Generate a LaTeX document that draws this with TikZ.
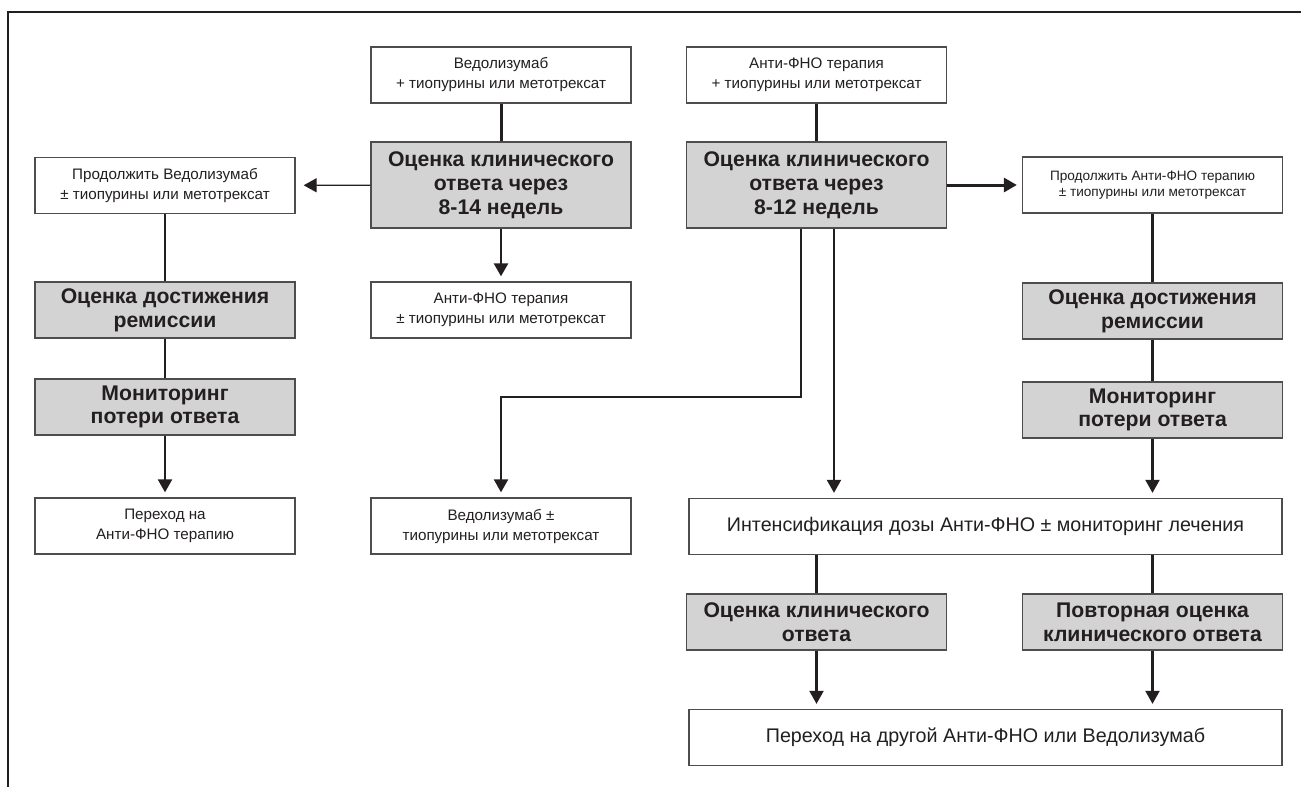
\documentclass[tikz,border=0pt]{standalone}
\usepackage{fontspec}
\setmainfont{Liberation Sans}
\usetikzlibrary{positioning,arrows.meta}
\definecolor{boxgrey}{RGB}{211,211,212}
\definecolor{ink}{RGB}{35,31,32}
\tikzset{
whitebox/.style={draw=ink!80, line width=1.3pt, fill=white, text=ink, minimum width=260pt, minimum height=56pt, align=center, inner sep=0pt, font=\fontsize{15.2}{20}\selectfont},
greybox/.style={whitebox, fill=boxgrey, font=\bfseries\fontsize{21.2}{23.8}\selectfont},
widebox/.style={whitebox, minimum width=593pt, font=\fontsize{19.7}{22}\selectfont},
link/.style={draw=ink, line width=2.2pt},
arr/.style={link, -{Triangle[length=13pt,width=14pt]}, shorten >=5pt}
}

\begin{document}
\begin{tikzpicture}[x=1pt,y=-1pt]
\useasboundingbox (0,0) rectangle (1301,787);
\draw[ink, line width=1.3pt] (8,787) -- (8,12) -- (1301,12);

% left half
\node[whitebox] (vedo) at (501,75) {Ведолизумаб\\+ тиопурины или метотрексат};
\node[greybox, minimum height=86pt] (evalV) at (501,185) {Оценка клинического\\ответа через\\8-14 недель};
\node[whitebox] (contV) at (165,185.5) {Продолжить Ведолизумаб\\± тиопурины или метотрексат};
\node[whitebox] (tnfV) at (501,310) {Анти-ФНО терапия\\± тиопурины или метотрексат};
\node[greybox] (remV) at (165,310) {Оценка достижения\\ремиссии};
\node[greybox] (monV) at (165,407) {Мониторинг\\потери ответа};
\node[whitebox] (swV) at (165,526) {Переход на\\Анти-ФНО терапию};
\node[whitebox] (vedoT) at (501,526) {Ведолизумаб ±\\тиопурины или метотрексат};

% right half
\node[whitebox] (tnf) at (816.5,75) {Анти-ФНО терапия\\+ тиопурины или метотрексат};
\node[greybox, minimum height=86pt] (evalT) at (816.5,185) {Оценка клинического\\ответа через\\8-12 недель};
\node[whitebox, font=\fontsize{13.6}{15.5}\selectfont] (contT) at (1152.5,185) {Продолжить Анти-ФНО терапию\\± тиопурины или метотрексат};
\node[greybox] (remT) at (1152.5,311) {Оценка достижения\\ремиссии};
\node[greybox] (monT) at (1152.5,410) {Мониторинг\\потери ответа};
\node[widebox] (dose) at (985.5,526.5) {Интенсификация дозы Анти-ФНО ± мониторинг лечения};
\node[greybox] (evalD) at (816.5,622) {Оценка клинического\\ответа};
\node[greybox] (reevalD) at (1152.5,622) {Повторная оценка\\клинического ответа};
\node[widebox] (swT) at (985.5,737.5) {Переход на другой Анти-ФНО или Ведолизумаб};

\coordinate (bend) at (801,397);
\coordinate (drop) at (834,0);

\draw[link, line width=3pt] (vedo) -- (evalV);
\draw[arr, line width=1.3pt, shorten >=8pt] (evalV) -- (contV);
\draw[arr, line width=2.6pt] (evalV) -- (tnfV);
\draw[link] (contV) -- (remV) -- (monV);
\draw[arr] (monV) -- (swV);

\draw[link, line width=3pt] (tnf) -- (evalT);
\draw[arr, line width=3pt] (evalT) -- (contT);
\draw[arr] (evalT.south -| bend) -- (bend) -| (vedoT.north);
\draw[arr] (evalT.south -| drop) -- (dose.north -| drop);
\draw[link] (contT) -- (remT) -- (monT);
\draw[arr] (monT) -- (monT |- dose.north);
\draw[link] (dose.south -| evalD) -- (evalD);
\draw[link] (dose.south -| reevalD) -- (reevalD);
\draw[arr] (evalD) -- (evalD |- swT.north);
\draw[arr] (reevalD) -- (reevalD |- swT.north);
\end{tikzpicture}
\end{document}
